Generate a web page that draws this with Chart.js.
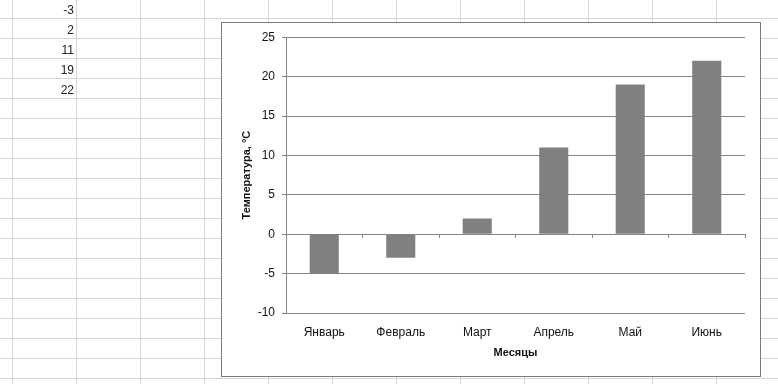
<!DOCTYPE html>
<html><head><meta charset="utf-8">
<script src="https://cdn.jsdelivr.net/npm/chart.js@4"></script>
<style>
html,body{margin:0;padding:0;width:778px;height:384px;overflow:hidden;background:#fff;}
#sheet{position:absolute;left:0;top:0;width:778px;height:384px;
 background-image:linear-gradient(to right,#d6d6d6 1px,transparent 1px),linear-gradient(to bottom,#d6d6d6 1px,transparent 1px);
 background-size:64px 100%,100% 20px;background-position:12px 0,0 18px;}
#cells{position:absolute;left:0;top:0;width:80px;height:120px;opacity:0.999;will-change:transform;}
.cell{position:absolute;width:70px;text-align:right;font:12px "Liberation Sans",Arial,sans-serif;color:#222;line-height:20px;}
#frame{position:absolute;left:221px;top:22px;width:540px;height:355px;box-sizing:border-box;border:1px solid #7a7a7a;background:#fff;}
#wrap{position:absolute;left:0;top:0;width:538px;height:353px;}
</style></head>
<body>
<div id="sheet"></div>
<div id="cells"></div>
<div id="frame"><div id="wrap"><canvas id="c" width="538" height="353"></canvas></div></div>
<script>
const months = ['Январь','Февраль','Март','Апрель','Май','Июнь'];
const temps = [-5, -3, 2, 11, 19, 22];
const yTitle = 'Температура, °C';
const xTitle = 'Месяцы';

// visible spreadsheet cells (first row is scrolled off)
const cellsDiv = document.getElementById('cells');
temps.slice(1).forEach((v,i)=>{
  const d=document.createElement('div');d.className='cell';
  d.style.left='4px';d.style.top=(0+20*i)+'px';d.textContent=String(v);
  cellsDiv.appendChild(d);
});

const gridColor = '#868686';
const FONT = '"Liberation Sans", Arial, sans-serif';
new Chart(document.getElementById('c'), {
  type:'bar',
  data:{labels:months,datasets:[{data:temps,backgroundColor:'#808080',borderWidth:0,barPercentage:0.38,categoryPercentage:1}]},
  options:{
    responsive:false,animation:false,devicePixelRatio:1,
    layout:{padding:{left:0,right:15,top:13,bottom:0}},
    plugins:{legend:{display:false},tooltip:{enabled:false}},
    scales:{
      x:{
        grid:{display:false,drawTicks:false},
        border:{display:false},
        ticks:{color:'#111',font:{family:FONT,size:12},padding:12,maxRotation:0},
        title:{display:true,text:xTitle,color:'#111',font:{family:FONT,size:11,weight:'bold'},padding:{top:0,bottom:16}},
        afterFit:s=>{s.height=63;}
      },
      x0:{
        type:'category',position:{y:0},labels:months,offset:true,
        grid:{drawOnChartArea:false,drawTicks:true,tickLength:4,color:gridColor,offset:true},
        border:{display:false},
        ticks:{display:false}
      },
      y:{
        min:-10,max:25,
        ticks:{stepSize:5,color:'#111',font:{family:FONT,size:12},padding:7},
        grid:{color:gridColor,tickLength:4,lineWidth:1},
        border:{display:true,color:gridColor},
        title:{display:true,text:yTitle,color:'#111',font:{family:FONT,size:11,weight:'bold'},padding:{top:18,bottom:0}},
        afterFit:s=>{s.width=64;}
      }
    }
  }
});
</script>
</body></html>
